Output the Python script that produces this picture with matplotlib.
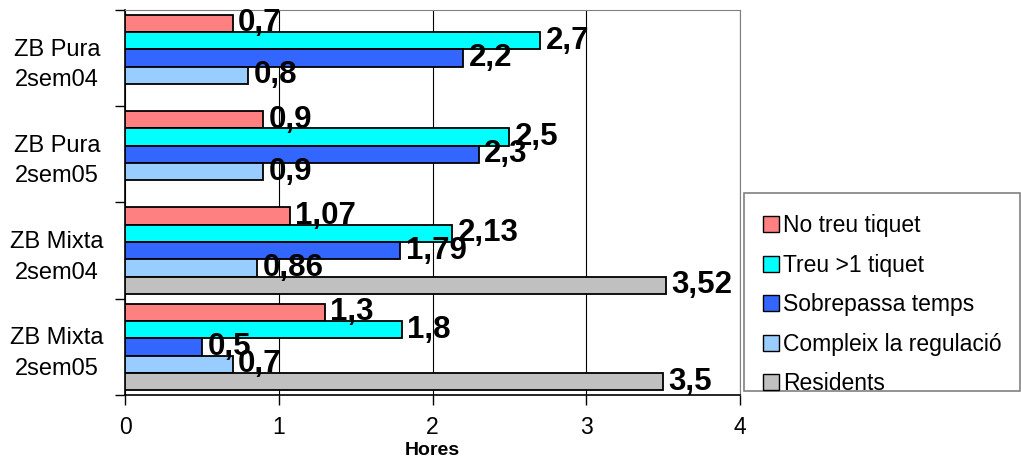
import numpy as np
import matplotlib.pyplot as plt
import matplotlib.patches as mpatches

plt.rcParams["font.family"] = ["Liberation Sans", "DejaVu Sans"]

GROUPS = ["ZB Pura\n2sem04", "ZB Pura\n2sem05", "ZB Mixta\n2sem04", "ZB Mixta\n2sem05"]

NO_TREU = [0.7, 0.9, 1.07, 1.3]
TREU_MES = [2.7, 2.5, 2.13, 1.8]
SOBREPASSA = [2.2, 2.3, 1.79, 0.5]
COMPLEIX = [0.8, 0.9, 0.86, 0.7]
RESIDENTS = [np.nan, np.nan, 3.52, 3.5]

SERIES = [NO_TREU, TREU_MES, SOBREPASSA, COMPLEIX, RESIDENTS]
LABELS = [
    "No treu tiquet",
    "Treu >1 tiquet",
    "Sobrepassa temps",
    "Compleix la regulació",
    "Residents",
]
COLORS = ["#FF8080", "#00FFFF", "#3366FF", "#99CCFF", "#C0C0C0"]

BAR_H = 0.18


def fmt(value):
    return f"{value:g}".replace(".", ",")


fig = plt.figure(figsize=(10.21, 4.61), dpi=100)
ax = fig.add_axes([125 / 1021, 1 - 395 / 461, 615 / 1021, 385 / 461])

ys = np.arange(len(GROUPS))
for i, (values, color) in enumerate(zip(SERIES, COLORS)):
    offset = (i - 2) * BAR_H
    for y, v in zip(ys, values):
        if np.isnan(v):
            continue
        ax.barh(y + offset, v, height=BAR_H, color=color, edgecolor="black",
                linewidth=1.3, zorder=3)
        ax.annotate(fmt(v), (v, y + offset), xytext=(4, 0), textcoords="offset points",
                    ha="left", va="center", fontsize=22.5, fontweight="bold", zorder=4)

ax.set_xlim(0, 4)
ax.set_ylim(3.5, -0.5)
ax.set_xticks([0, 1, 2, 3, 4])
ax.set_xticklabels(["0", "1", "2", "3", "4"], fontsize=16.5)
ax.tick_params(axis="x", length=7, width=1, pad=8)
ax.set_yticks(ys)
ax.set_yticklabels(GROUPS, fontsize=17, linespacing=1.5, ha="center")
ax.tick_params(axis="y", length=0, pad=49)
ax.set_yticks(np.arange(-0.5, 4, 1), minor=True)
ax.tick_params(axis="y", which="minor", length=7, width=1)
ax.set_xlabel("Hores", fontsize=14, fontweight="bold", labelpad=2)

ax.grid(axis="x", color="black", linewidth=0.8, zorder=0)
ax.spines["top"].set_color("#808080")
ax.spines["right"].set_color("#808080")
ax.spines["left"].set_linewidth(1.2)
ax.spines["bottom"].set_linewidth(1.2)

# legend box, cut short at the bottom like the original
fig.patches.append(mpatches.Rectangle(
    (744 / 1021, 1 - 391 / 461), 276 / 1021, 198 / 461,
    transform=fig.transFigure, facecolor="white", edgecolor="#808080",
    linewidth=1.2, zorder=1))

handles = [mpatches.Patch(facecolor=c, edgecolor="black", label=l)
           for c, l in zip(COLORS, LABELS)]
leg = fig.legend(handles=handles, loc="upper left",
                 bbox_to_anchor=(746 / 1021, 1 - 197 / 461),
                 fontsize=16.5, frameon=False,
                 handlelength=0.7, handleheight=0.7, handletextpad=0.15,
                 labelspacing=0.72, borderaxespad=0, borderpad=0.75)
leg.set_zorder(2)

fig.savefig("out.png", dpi=100)
